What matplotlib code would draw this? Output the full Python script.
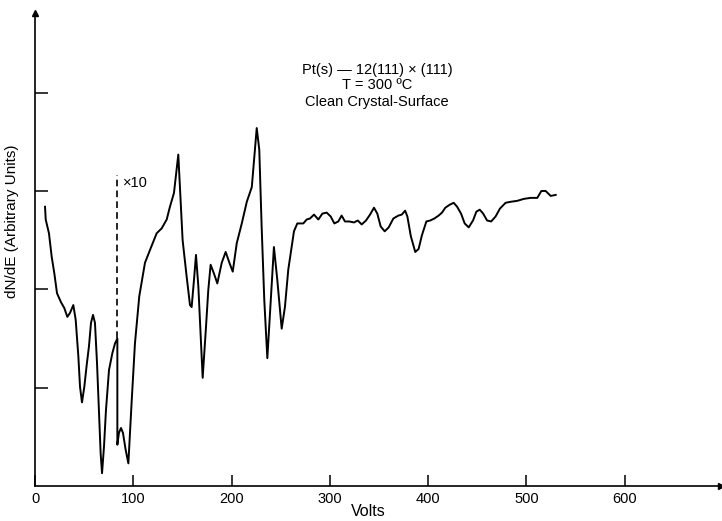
import matplotlib
matplotlib.use("Agg")
import matplotlib.pyplot as plt

plt.rcParams['font.family'] = ['Liberation Sans', 'DejaVu Sans']

# spectrum: energy (V) and dN/dE (arbitrary units)
volts = [10.2, 10.9, 14.2, 17.0, 19.7, 22.4, 26.4, 29.8, 32.9, 35.6, 39.0, 41.4,
         44.1, 45.8, 47.8, 50.2, 52.6, 54.9, 57.0, 59.0, 61.0, 63.1, 65.1, 66.8,
         68.2, 70.2, 72.2, 75.3, 78.7, 81.4, 83.8, 83.8, 85.4, 87.5, 89.5, 92.2,
         95.0, 96.6, 98.3, 101.7, 106.1, 111.9, 117.0, 123.8, 128.9, 134.0, 137.3,
         141.4, 145.8, 150.2, 154.3, 157.7, 159.4, 161.8, 163.8, 166.2, 170.6,
         174.0, 176.3, 178.7, 182.1, 185.5, 190.0, 194.0, 197.8, 201.2, 205.3,
         210.4, 215.5, 220.6, 224.0, 225.6, 228.2, 230.6, 233.3, 236.4, 239.1,
         243.1, 246.5, 251.0, 254.3, 257.7,
         261.1, 263.5, 266.9, 273.0, 276.4, 279.8, 283.9, 288.3, 292.4, 296.8,
         300.9, 304.6, 308.6, 312.0, 315.4, 319.8, 324.6, 328.4, 332.4, 336.8,
         340.9, 344.9, 348.3, 351.7, 355.8, 359.9, 364.6, 369.7, 373.2, 376.6,
         378.9, 382.4, 386.9, 390.3, 393.7, 398.2, 402.2, 406.3, 410.7, 414.1,
         417.5, 421.9, 426.0, 429.5, 433.5, 437.2, 441.3, 445.7, 449.1, 452.5,
         456.0, 460.0, 464.1, 468.6, 473.0, 478.8, 483.9, 490.7, 497.5, 504.3,
         511.1, 515.2, 519.6, 524.7, 529.8]
dnde = [2.84, 2.71, 2.57, 2.33, 2.16, 1.96, 1.87, 1.81, 1.72, 1.76, 1.84, 1.69,
        1.32, 1.01, 0.85, 1.01, 1.23, 1.42, 1.66, 1.74, 1.66, 1.25, 0.74, 0.33,
        0.13, 0.40, 0.77, 1.18, 1.35, 1.45, 1.50, 0.42, 0.54, 0.59, 0.54, 0.37,
        0.23, 0.54, 0.85, 1.45, 1.93, 2.27, 2.40, 2.57, 2.62, 2.71, 2.84,
        2.98, 3.37, 2.50, 2.13, 1.84, 1.82, 2.10, 2.35, 2.03, 1.10,
        1.62, 1.99, 2.25, 2.16, 2.06, 2.27, 2.38, 2.27, 2.18, 2.47,
        2.67, 2.89, 3.04, 3.45, 3.64, 3.42, 2.64, 1.89, 1.30, 1.76,
        2.43, 2.10, 1.60, 1.82, 2.20,
        2.43, 2.59, 2.67, 2.67, 2.71, 2.72, 2.76, 2.71, 2.77, 2.78,
        2.74, 2.67, 2.69, 2.75, 2.69, 2.69, 2.68, 2.70, 2.66, 2.70,
        2.76, 2.83, 2.77, 2.64, 2.59, 2.63, 2.72, 2.75, 2.76, 2.80,
        2.74, 2.54, 2.38, 2.41, 2.55, 2.69, 2.70, 2.72, 2.75, 2.78,
        2.83, 2.86, 2.88, 2.84, 2.77, 2.67, 2.63, 2.70, 2.79, 2.81,
        2.77, 2.70, 2.69, 2.74, 2.82, 2.88, 2.89, 2.90, 2.92, 2.93,
        2.93, 3.00, 3.00, 2.95, 2.96]

x10_volts = 83.8
x10_top = 3.16
x10_bottom = 1.50
xticks = [0, 100, 200, 300, 400, 500, 600]
yticks = [1, 2, 3, 4]

fig = plt.figure(figsize=(7.22, 5.21), dpi=100)
ax = fig.add_axes([35 / 722, 35 / 521, 686 / 722, 473 / 521])

ax.plot(volts, dnde, color='black', lw=1.4)
ax.plot([x10_volts, x10_volts], [x10_bottom, x10_top], color='black',
        lw=1.2, ls=(0, (4, 2.5)))
ax.text(x10_volts + 6, 3.08, "\u00d710", fontsize=10.5, va='center')

ax.text(348, 4.235, "Pt(s) \u2014 12(111) \u00d7 (111)", fontsize=10.5,
        ha='center', va='center')
ax.text(348, 4.075, "T = 300 \u00baC", fontsize=10.5, ha='center', va='center')
ax.text(348, 3.90, "Clean Crystal-Surface", fontsize=10.5, ha='center',
        va='center')

ax.set_xlim(0, 698)
ax.set_ylim(0, 4.81)
ax.set_xticks(xticks)
ax.set_yticks(yticks)
ax.set_yticklabels([])
ax.tick_params(axis='x', direction='in', length=8, width=1.1, labelsize=10.5, pad=4)
ax.tick_params(axis='y', direction='in', length=9, width=1.1)
for side in ['top', 'right']:
    ax.spines[side].set_visible(False)
for side in ['left', 'bottom']:
    ax.spines[side].set_linewidth(1.2)

# arrow heads at the ends of the axes
ax.plot(1, 0, '>k', ms=4, transform=ax.transAxes, clip_on=False)
ax.plot(0, 1, '^k', ms=4, transform=ax.transAxes, clip_on=False)

fig.text(12 / 722, 1 - 221 / 521, "dN/dE (Arbitrary Units)", rotation=90,
         ha='center', va='center', fontsize=11)
fig.text(368 / 722, 1 - 512 / 521, "Volts", ha='center', va='center',
         fontsize=11.5)

fig.savefig("out.png", dpi=100)
